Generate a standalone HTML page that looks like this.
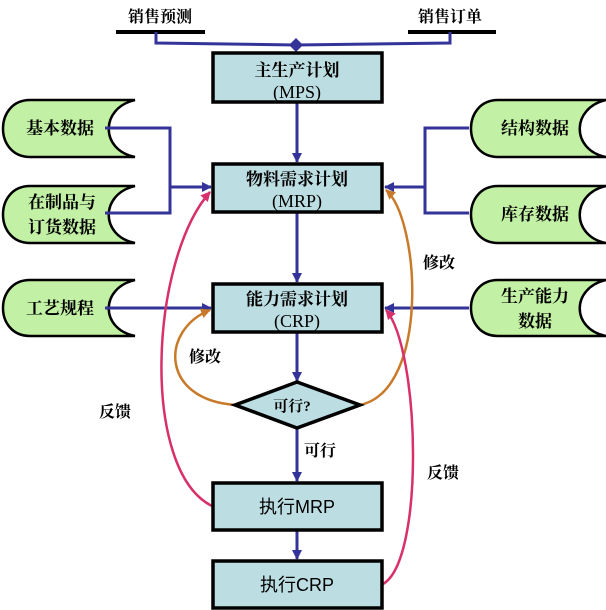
<!DOCTYPE html>
<html><head><meta charset="utf-8"><style>
html,body{margin:0;padding:0;background:#fff}
svg{display:block}
text{font-family:"Liberation Serif","Noto Serif CJK SC","Noto Sans CJK SC",serif;font-weight:bold;fill:#000}
.n{font-weight:normal}
.s{font-family:"Liberation Sans","Noto Sans CJK SC",sans-serif;font-weight:normal}
</style></head><body>
<svg width="606" height="610" viewBox="0 0 606 610" xmlns="http://www.w3.org/2000/svg">
<defs>
<marker id="ab" markerWidth="10" markerHeight="10" refX="9" refY="5" orient="auto" markerUnits="userSpaceOnUse"><path d="M0,0 L10,5 L0,10 Z" fill="#333399"/></marker>
<marker id="ao" markerWidth="10" markerHeight="10" refX="9" refY="5" orient="auto" markerUnits="userSpaceOnUse"><path d="M0,0 L10,5 L0,10 Z" fill="#c87a2a"/></marker>
<marker id="ap" markerWidth="10" markerHeight="10" refX="9" refY="5" orient="auto" markerUnits="userSpaceOnUse"><path d="M0,0 L10,5 L0,10 Z" fill="#d8306a"/></marker>
</defs>
<text x="160" y="22" font-size="16" text-anchor="middle">销售预测</text>
<text x="450" y="22" font-size="16" text-anchor="middle">销售订单</text>
<line x1="116" y1="32" x2="205" y2="32" stroke="#000" stroke-width="4"/>
<line x1="408" y1="32" x2="496" y2="32" stroke="#000" stroke-width="4"/>
<g fill="none" stroke="#333399" stroke-width="3">
<polyline points="156,32 156,43 296,45 450,43 450,32"/>
</g>
<path d="M296,38 L303,45 L296,52 L289,45 Z" fill="#333399"/>
<g fill="#c2f0a4" stroke="#000" stroke-width="2.5">
<path d="M30,100 H135 C100,108 100,150 135,157 H30 C-6,157 -6,100 30,100 Z"/>
<path d="M30,186 H135 C100,194 100,236 135,243 H30 C-6,243 -6,186 30,186 Z"/>
<path d="M30,280 H135 C100,288 100,329 135,336 H30 C-6,336 -6,280 30,280 Z"/>
<path d="M498,100 H606 C571,108 571,150 606,157 H498 C462,157 462,100 498,100 Z"/>
<path d="M498,186 H606 C571,194 571,236 606,243 H498 C462,243 462,186 498,186 Z"/>
<path d="M498,280 H606 C571,288 571,329 606,336 H498 C462,336 462,280 498,280 Z"/>
</g>
<g font-size="17" text-anchor="middle">
<text x="60" y="134">基本数据</text>
<text x="62" y="208">在制品与</text>
<text x="62" y="233">订货数据</text>
<text x="60" y="314">工艺规程</text>
<text x="535" y="134">结构数据</text>
<text x="535" y="220">库存数据</text>
<text x="535" y="302">生产能力</text>
<text x="535" y="327">数据</text>
</g>
<g fill="none" stroke="#333399" stroke-width="3">
<polyline points="105,128 170,128 170,213 105,213"/>
<line x1="170" y1="187" x2="211" y2="187" marker-end="url(#ab)"/>
<polyline points="469,128 425,128 425,213 469,213"/>
<line x1="425" y1="187" x2="385" y2="187" marker-end="url(#ab)"/>
<line x1="105" y1="308" x2="211" y2="308" marker-end="url(#ab)"/>
<line x1="469" y1="308" x2="385" y2="308" marker-end="url(#ab)"/>
<line x1="297" y1="102" x2="297" y2="162" marker-end="url(#ab)"/>
<line x1="297" y1="212" x2="297" y2="282" marker-end="url(#ab)"/>
<line x1="297" y1="332" x2="297" y2="381" marker-end="url(#ab)"/>
<line x1="297" y1="428" x2="297" y2="481" marker-end="url(#ab)"/>
<line x1="297" y1="530" x2="297" y2="559" marker-end="url(#ab)"/>
</g>
<g fill="none" stroke-width="2.5">
<path d="M236,405 C160,400 160,330 210,310" stroke="#c87a2a" marker-end="url(#ao)"/>
<path d="M360,405 C430,390 420,220 386,190" stroke="#c87a2a" marker-end="url(#ao)"/>
<path d="M212,506 C140,470 150,260 210,192" stroke="#d8306a" marker-end="url(#ap)"/>
<path d="M383,584 C425,560 420,350 386,310" stroke="#d8306a" marker-end="url(#ap)"/>
</g>
<g fill="#bcdde2" stroke="#000" stroke-width="3.5">
<rect x="213" y="53" width="169" height="49"/>
<rect x="213" y="164" width="169" height="48"/>
<rect x="213" y="284" width="169" height="48"/>
<rect x="213" y="483" width="169" height="47"/>
<rect x="213" y="561" width="169" height="47"/>
<path d="M235,405 L297,382 L360,405 L297,428 Z"/>
</g>
<g text-anchor="middle">
<text x="297" y="76" font-size="17">主生产计划</text>
<text x="297" y="98" font-size="18" class="n">(MPS)</text>
<text x="297" y="185" font-size="17">物料需求计划</text>
<text x="297" y="207" font-size="18" class="n">(MRP)</text>
<text x="297" y="305" font-size="17">能力需求计划</text>
<text x="297" y="327" font-size="18" class="n">(CRP)</text>
<text x="292" y="411" font-size="15">可行?</text>
<text x="297" y="513" font-size="18" class="s">执行MRP</text>
<text x="297" y="591" font-size="18" class="s">执行CRP</text>
</g>
<g font-size="16">
<text x="423" y="268">修改</text>
<text x="189" y="362">修改</text>
<text x="99" y="417">反馈</text>
<text x="304" y="456">可行</text>
<text x="427" y="478">反馈</text>
</g>
</svg>
</body></html>
